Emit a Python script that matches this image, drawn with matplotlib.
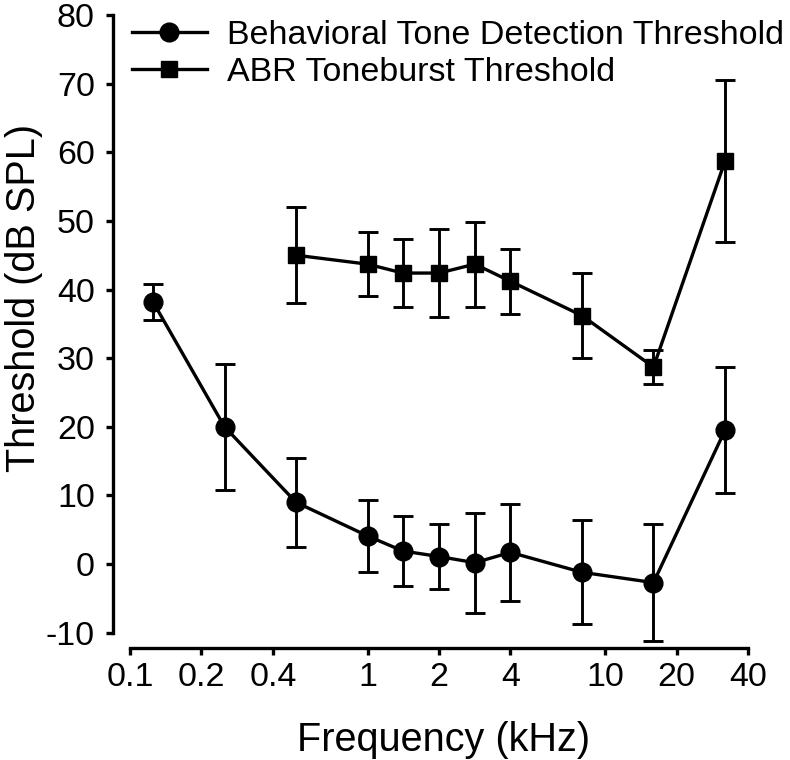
import matplotlib
matplotlib.use('Agg')
import matplotlib.pyplot as plt
from matplotlib.ticker import FixedLocator, FixedFormatter, NullLocator

# ---- data ----
beh_freq = [0.125, 0.25, 0.5, 1, 1.41, 2, 2.83, 4, 8, 16, 32]
beh_mean = [38.2, 20.0, 9.0, 4.1, 1.9, 1.1, 0.2, 1.7, -1.2, -2.7, 19.5]
beh_sem = [2.6, 9.2, 6.5, 5.3, 5.1, 4.8, 7.3, 7.1, 7.6, 8.5, 9.2]

abr_freq = [0.5, 1, 1.41, 2, 2.83, 4, 8, 16, 32]
abr_mean = [45.0, 43.7, 42.4, 42.4, 43.7, 41.2, 36.2, 28.7, 58.7]
abr_sem = [7.0, 4.7, 4.9, 6.4, 6.2, 4.7, 6.2, 2.5, 11.8]

x_ticks = [0.1, 0.2, 0.4, 1, 2, 4, 10, 20, 40]
x_ticklabels = ['0.1', '0.2', '0.4', '1', '2', '4', '10', '20', '40']
y_ticks = [-10, 0, 10, 20, 30, 40, 50, 60, 70, 80]
y_ticklabels = ['-10', '0', '10', '20', '30', '40', '50', '60', '70', '80']

beh_label = 'Behavioral Tone Detection Threshold'
abr_label = 'ABR Toneburst Threshold'

plt.rcParams['font.family'] = ['Liberation Sans', 'DejaVu Sans']
FS = 24.5
LFS = 28.5

fig = plt.figure(figsize=(7.9, 7.6), dpi=100)
ax = fig.add_axes([130 / 790, (760 - 632.7) / 760, 618 / 790, 617.7 / 760])
ax.set_xscale('log')

for f, m, s, mk, msz, lab in [(beh_freq, beh_mean, beh_sem, 'o', 13.5, beh_label),
                              (abr_freq, abr_mean, abr_sem, 's', 12.0, abr_label)]:
    cont = ax.errorbar(f, m, yerr=s, fmt='none', ecolor='black', elinewidth=2.1,
                       capsize=7, capthick=2.1)
    for art in cont.get_children():
        art.set_clip_on(False)
    ax.plot(f, m, '-', marker=mk, color='black', lw=2.4, ms=msz, clip_on=False,
            label=lab, zorder=3)

ax.set_xlim(0.1, 40)
ax.set_ylim(-10, 80)
ax.xaxis.set_major_locator(FixedLocator(x_ticks))
ax.xaxis.set_major_formatter(FixedFormatter(x_ticklabels))
ax.xaxis.set_minor_locator(NullLocator())
ax.yaxis.set_major_locator(FixedLocator(y_ticks))
ax.yaxis.set_major_formatter(FixedFormatter(y_ticklabels))

for side in ['top', 'right']:
    ax.spines[side].set_visible(False)
ax.spines['left'].set_position(('outward', 12.2))
ax.spines['bottom'].set_position(('outward', 10.8))
for side in ['left', 'bottom']:
    ax.spines[side].set_linewidth(2.4)

ax.tick_params(axis='both', direction='out', length=5, width=2.4, labelsize=FS)
ax.tick_params(axis='x', pad=5)
ax.tick_params(axis='y', pad=8)

ax.set_xlabel('Frequency (kHz)', fontsize=LFS)
ax.set_ylabel('Threshold (dB SPL)', fontsize=LFS)
ax.xaxis.set_label_coords(0.508, -0.143)
ax.yaxis.set_label_coords(-0.141, 0.542)

ax.legend(loc='upper left', bbox_to_anchor=(131.7 / 790, 1 - 19.5 / 760),
          bbox_transform=fig.transFigure, frameon=False, fontsize=FS,
          handlelength=2.2, handletextpad=0.6, labelspacing=0.2,
          borderpad=0, borderaxespad=0)

fig.savefig('out.png', dpi=100)
